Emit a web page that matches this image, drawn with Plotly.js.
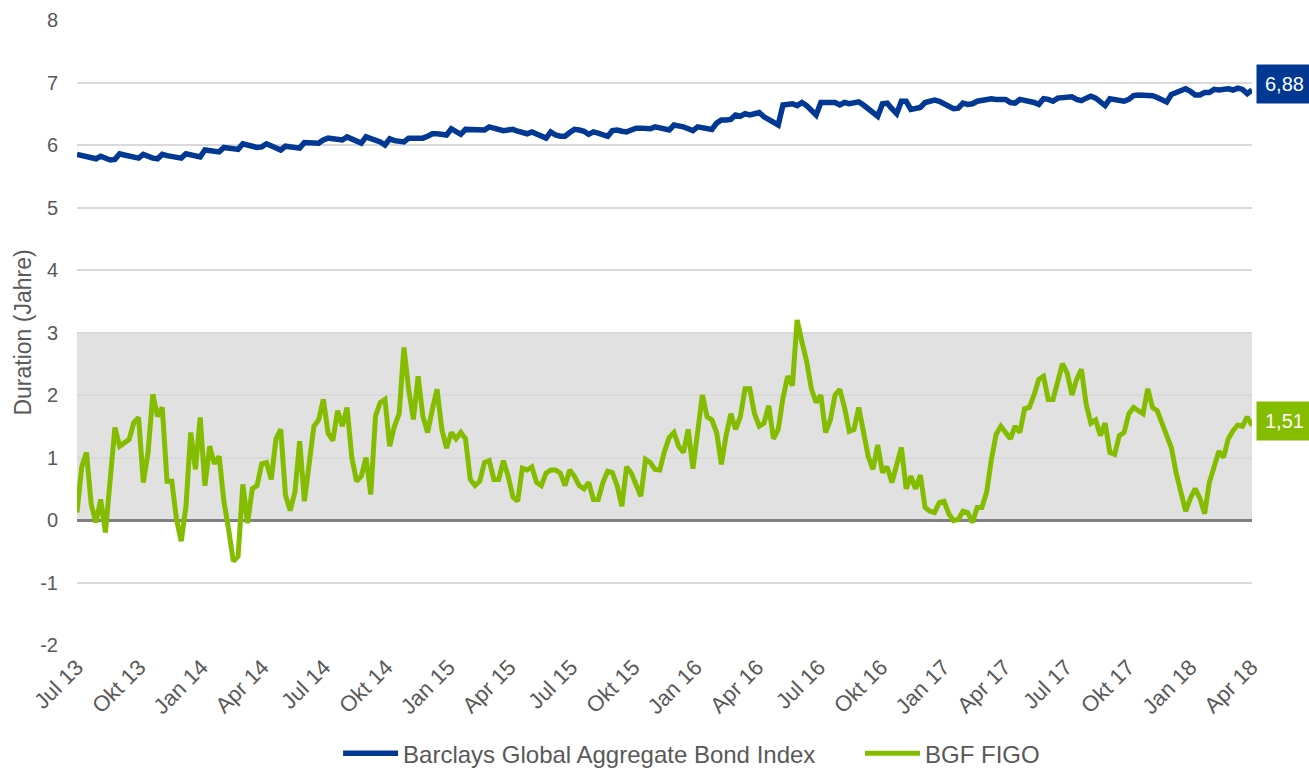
<!DOCTYPE html>
<html>
<head>
<meta charset="utf-8">
<script src="https://cdn.plot.ly/plotly-3.0.1.min.js"></script>
<style>
  html, body { margin: 0; padding: 0; background: #fff; }
  #chart { width: 1309px; height: 769px; }
</style>
</head>
<body>
<div id="chart"></div>
<script>
// Weekly observations, first week starting 2013-07-01
const startDate = "2013-07-01";
const seriesNames = ["Barclays Global Aggregate Bond Index", "BGF FIGO"];

const barclaysDuration = [
  5.85,5.83,5.81,5.79,5.78,5.82,5.79,5.76,5.77,5.86,5.84,5.82,5.80,5.79,5.85,5.81,5.79,5.78,5.85,5.83,
  5.82,5.80,5.79,5.86,5.84,5.82,5.81,5.92,5.91,5.90,5.89,5.96,5.95,5.94,5.93,6.02,5.99,5.98,5.96,5.97,
  6.02,5.98,5.95,5.92,5.98,5.97,5.96,5.95,6.04,6.04,6.03,6.03,6.08,6.11,6.10,6.09,6.08,6.13,6.09,6.06,
  6.03,6.13,6.11,6.08,6.05,6.00,6.10,6.07,6.05,6.05,6.11,6.11,6.11,6.11,6.14,6.18,6.18,6.17,6.16,6.26,
  6.22,6.17,6.25,6.25,6.23,6.24,6.24,6.29,6.27,6.26,6.23,6.24,6.25,6.22,6.19,6.18,6.21,6.18,6.14,6.11,
  6.21,6.16,6.14,6.14,6.20,6.25,6.24,6.22,6.17,6.21,6.19,6.17,6.14,6.23,6.24,6.22,6.21,6.24,6.27,6.27,
  6.26,6.26,6.29,6.28,6.26,6.24,6.32,6.31,6.29,6.26,6.23,6.29,6.27,6.26,6.25,6.35,6.40,6.40,6.41,6.48,
  6.46,6.50,6.48,6.50,6.52,6.45,6.40,6.36,6.32,6.64,6.65,6.66,6.63,6.68,6.63,6.55,6.48,6.68,6.68,6.69,
  6.68,6.64,6.68,6.66,6.67,6.69,6.64,6.58,6.53,6.46,6.66,6.67,6.58,6.50,6.70,6.70,6.57,6.58,6.60,6.68,
  6.71,6.72,6.70,6.66,6.62,6.58,6.59,6.67,6.65,6.66,6.70,6.72,6.73,6.74,6.73,6.72,6.73,6.68,6.67,6.73,
  6.72,6.71,6.68,6.65,6.74,6.73,6.70,6.75,6.76,6.75,6.77,6.73,6.71,6.75,6.78,6.75,6.68,6.63,6.74,6.73,
  6.73,6.70,6.73,6.79,6.80,6.80,6.80,6.79,6.76,6.72,6.69,6.81,6.84,6.87,6.90,6.86,6.80,6.80,6.84,6.84,
  6.89,6.88,6.90,6.90,6.88,6.91,6.89,6.82,6.88
];

const figoDuration = [
  0.12,0.85,1.08,0.25,-0.04,0.33,-0.20,0.76,1.48,1.18,1.24,1.29,1.56,1.64,0.60,1.08,2.01,1.66,1.80,0.62,
  0.62,0.01,-0.34,0.22,1.40,0.81,1.64,0.55,1.18,0.90,1.02,0.30,-0.15,-0.66,-0.58,0.57,-0.05,0.50,0.55,0.90,
  0.92,0.65,1.30,1.45,0.40,0.15,0.45,1.26,0.30,0.90,1.50,1.60,1.93,1.39,1.27,1.75,1.50,1.80,1.00,0.62,
  0.70,1.00,0.41,1.66,1.88,1.93,1.18,1.50,1.70,2.76,2.09,1.61,2.30,1.66,1.40,1.77,2.09,1.45,1.15,1.40,
  1.30,1.40,1.30,0.65,0.55,0.62,0.92,0.95,0.65,0.65,0.95,0.70,0.37,0.30,0.83,0.80,0.85,0.60,0.55,0.75,
  0.80,0.80,0.75,0.55,0.80,0.70,0.55,0.50,0.60,0.33,0.33,0.60,0.78,0.76,0.55,0.22,0.85,0.75,0.57,0.38,
  0.97,0.92,0.81,0.80,1.10,1.32,1.40,1.18,1.08,1.45,0.82,1.50,2.00,1.65,1.60,1.40,0.89,1.35,1.70,1.45,
  1.65,2.10,2.10,1.70,1.50,1.55,1.83,1.30,1.45,1.95,2.30,2.15,3.20,2.85,2.54,2.10,1.88,2.00,1.40,1.60,
  2.00,2.09,1.80,1.42,1.45,1.80,1.35,1.02,0.81,1.20,0.76,0.85,0.60,0.90,1.16,0.50,0.70,0.50,0.72,0.20,
  0.14,0.12,0.28,0.30,0.10,-0.01,0.01,0.14,0.12,-0.04,0.20,0.20,0.45,0.97,1.37,1.50,1.40,1.30,1.50,1.40,
  1.78,1.80,2.00,2.25,2.30,1.93,1.93,2.25,2.50,2.35,2.00,2.25,2.41,1.85,1.55,1.60,1.35,1.55,1.08,1.05,
  1.35,1.40,1.70,1.80,1.75,1.70,2.10,1.80,1.75,1.55,1.33,1.15,0.75,0.40,0.14,0.35,0.50,0.35,0.10,0.60,
  0.85,1.10,1.00,1.30,1.43,1.52,1.50,1.65,1.51
];

const tickDates = ["2013-07-01","2013-10-01","2014-01-01","2014-04-01","2014-07-01","2014-10-01",
  "2015-01-01","2015-04-01","2015-07-01","2015-10-01","2016-01-01","2016-04-01","2016-07-01",
  "2016-10-01","2017-01-01","2017-04-01","2017-07-01","2017-10-01","2018-01-01","2018-04-01"];
const tickLabels = ["Jul 13","Okt 13","Jan 14","Apr 14","Jul 14","Okt 14","Jan 15","Apr 15","Jul 15",
  "Okt 15","Jan 16","Apr 16","Jul 16","Okt 16","Jan 17","Apr 17","Jul 17","Okt 17","Jan 18","Apr 18"];
const yTickVals = [-2, -1, 0, 1, 2, 3, 4, 5, 6, 7, 8];
const yTickLabels = ["-2", "-1", "0", "1", "2", "3", "4", "5", "6", "7", "8"];

const blue = "#003894";
const green = "#84bc00";
const textGray = "#595959";
const fontFam = "Liberation Sans, Arial, sans-serif";

const t0 = Date.parse(startDate + "T00:00:00Z");
const dates = barclaysDuration.map((_, i) =>
  new Date(t0 + i * 7 * 86400000).toISOString().slice(0, 10));

const fmt = v => v.toFixed(2).replace(".", ",");
const lastB = barclaysDuration[barclaysDuration.length - 1];
const lastF = figoDuration[figoDuration.length - 1];

const traces = [
  { x: dates, y: barclaysDuration, name: seriesNames[0], type: "scatter", mode: "lines",
    line: { color: blue, width: 5.5 }, legend: "legend" },
  { x: dates, y: figoDuration, name: seriesNames[1], type: "scatter", mode: "lines",
    line: { color: green, width: 5 }, legend: "legend2" }
];

const legendBase = {
  orientation: "h", xref: "paper", xanchor: "left",
  yref: "container", y: 0.02, yanchor: "middle", itemwidth: 55,
  font: { size: 24, color: textGray }, bgcolor: "rgba(0,0,0,0)"
};

const layout = {
  width: 1309, height: 769,
  margin: { l: 77, r: 57, t: 20, b: 124 },
  paper_bgcolor: "#ffffff", plot_bgcolor: "#ffffff",
  font: { family: fontFam, color: textGray, size: 20 },
  showlegend: true,
  legend: Object.assign({}, legendBase, { x: 0.2222 }),
  legend2: Object.assign({}, legendBase, { x: 0.6664 }),
  xaxis: {
    type: "date", range: [dates[0], dates[dates.length - 1]], automargin: false,
    tickmode: "array", tickvals: tickDates, ticktext: tickLabels,
    tickangle: -45, showgrid: false, zeroline: false, showline: false, ticks: "",
    ticklabelstandoff: 4,
    tickfont: { size: 22, color: textGray }
  },
  yaxis: {
    range: [-2, 8], tickmode: "array", tickvals: yTickVals, ticktext: yTickLabels,
    automargin: false,
    showgrid: true, gridcolor: "#d9d9d9", gridwidth: 1.5,
    zeroline: true, zerolinecolor: "#808080", zerolinewidth: 3,
    showline: false, ticks: "", ticklabelstandoff: 18,
    tickfont: { size: 20, color: textGray },
    title: { text: "Duration (Jahre)", font: { size: 23, color: textGray }, standoff: 2 }
  },
  shapes: [
    { type: "rect", xref: "paper", x0: 0, x1: 1, yref: "y", y0: 0, y1: 3,
      fillcolor: "#e1e1e1", line: { width: 0 }, layer: "below" }
  ],
  annotations: [
    { xref: "paper", x: 1, xanchor: "left", xshift: 4, yref: "y", y: lastB, yshift: 6,
      text: fmt(lastB), showarrow: false, bgcolor: blue, borderpad: 8,
      font: { size: 20, color: "#ffffff", family: fontFam } },
    { xref: "paper", x: 1, xanchor: "left", xshift: 4, yref: "y", y: lastF, yshift: 5,
      text: fmt(lastF), showarrow: false, bgcolor: green, borderpad: 8,
      font: { size: 20, color: "#ffffff", family: fontFam } }
  ]
};

Plotly.newPlot("chart", traces, layout, { displayModeBar: false, responsive: false });
</script>
</body>
</html>
